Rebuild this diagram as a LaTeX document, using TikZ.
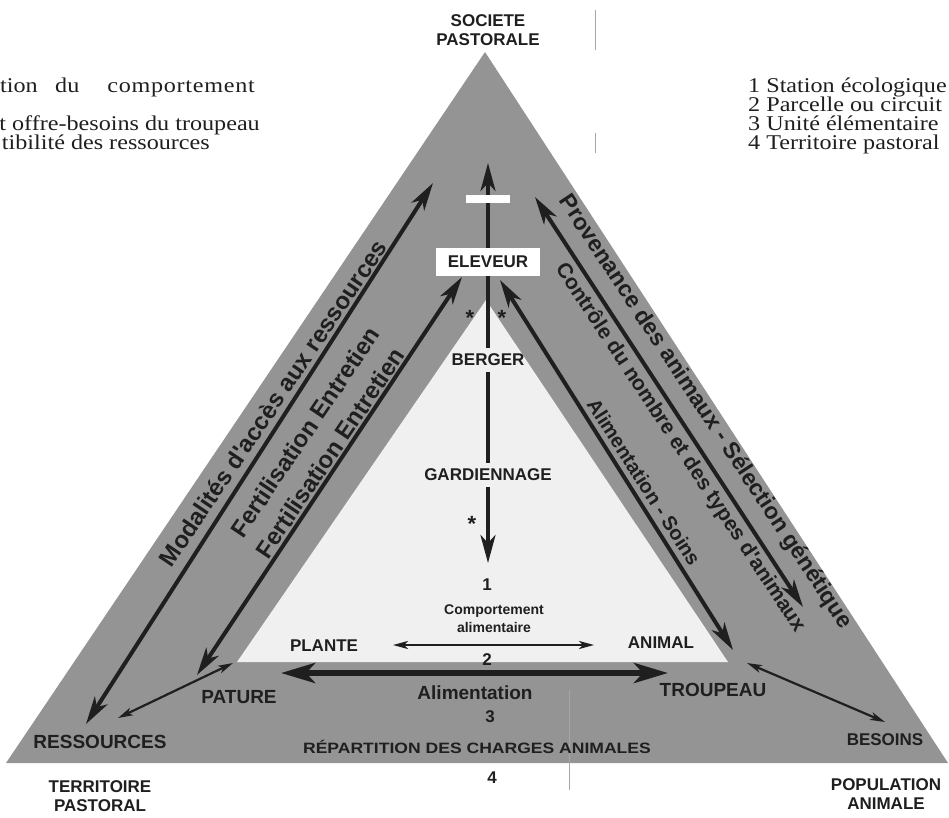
\documentclass[tikz,border=0pt]{standalone}
\usepackage{fontspec}
\setmainfont{Liberation Serif}
\newfontfamily\lsans{Liberation Sans}
\usetikzlibrary{arrows.meta}
\definecolor{gdark}{gray}{0.58}
\definecolor{glight}{gray}{0.94}
\definecolor{ink}{gray}{0.12}
\newcommand{\wide}[1]{\scalebox{1.15}[1]{#1}}
\tikzset{
  lab/.style={font=\lsans\bfseries\fontsize{17}{19}\selectfont, text=ink, inner sep=1pt, align=center},
  biglab/.style={lab, font=\lsans\bfseries\fontsize{19}{22}\selectfont},
  smalllab/.style={lab, font=\lsans\bfseries\fontsize{14}{18}\selectfont},
  rlab/.style={font=\lsans\bfseries\fontsize{#1}{#1}\selectfont, text=ink, inner sep=0pt},
  ser/.style={font=\fontsize{21}{19}\selectfont, text=ink, inner sep=0pt},
  fat/.style={line width=4pt, draw=ink},
  tipA/.tip={Stealth[length=28pt,width=15pt,inset=8pt]},
  tipB/.tip={Stealth[length=34pt,width=20pt,inset=9pt]},
  tipC/.tip={Stealth[length=15pt,width=8pt,inset=4pt]},
  thinarr/.style={line width=2.2pt, draw=ink, tipC-tipC},
  startxt/.style={font=\lsans\bfseries\fontsize{22}{22}\selectfont, text=ink, inner sep=0pt}
}
\begin{document}
\begin{tikzpicture}[x=1pt,y=-1pt]
\useasboundingbox (0,0) rectangle (949,817);
% shaded areas
\fill[gdark] (6,763) -- (485,52) -- (948,763) -- cycle;
\fill[glight] (486,300) -- (237,662) -- (728,662) -- cycle;
% scan marks
\draw[black!35, line width=0.6pt] (595,10) -- (595,50) (595,133) -- (595,153) (569,690) -- (569,790);

% top texts
\node[ser, anchor=base east] (l1a) at (38,92) {\wide{tion}};
\node[ser, anchor=base west] (l1b) at (55,92) {\wide{du}};
\node[ser, anchor=base east] (l1c) at (255,92) {\wide{\addfontfeature{LetterSpace=3}comportement}};
\node[ser, anchor=base east] (l2) at (260,130) {\wide{t offre-besoins du troupeau}};
\node[ser, anchor=base east] (l3) at (210,149) {\wide{tibilité des ressources}};
\node[ser, anchor=base west] (r1) at (748,92) {\wide{1 Station écologique}};
\node[ser, anchor=base west] (r2) at (748,111) {\wide{2 Parcelle ou circuit}};
\node[ser, anchor=base west] (r3) at (748,130) {\wide{3 Unité élémentaire}};
\node[ser, anchor=base west] (r4) at (748,149) {\wide{4 Territoire pastoral}};
\node[lab] (soc) at (488,30) {SOCIETE\\PASTORALE};

% central column
\node[lab, fill=white, minimum width=104pt, minimum height=28pt, inner sep=0pt] (elev) at (488,262) {ELEVEUR};
\node[lab, inner sep=6pt] (berger) at (488,360) {BERGER};
\node[lab, inner sep=6pt] (gard) at (488,475) {GARDIENNAGE};
\node[startxt] (st1) at (470,318) {*};
\node[startxt] (st2) at (502,318) {*};
\node[startxt] (st3) at (472,524) {*};
\node[lab] (n1) at (487,585) {1};
\node[smalllab] (comp) at (494,619) {Comportement\\alimentaire};
\node[lab] (plante) at (324,646) {PLANTE};
\node[lab] (animal) at (661,643) {ANIMAL};
\node[lab] (n2) at (487,660) {2};
\node[biglab] (pature) at (239,697) {PATURE};
\node[biglab] (alimn) at (475,693) {Alimentation};
\node[biglab] (troup) at (713,690) {TROUPEAU};
\node[lab] (n3) at (490,717) {3};
\node[lab, font=\lsans\bfseries\fontsize{15}{18}\selectfont] (rep) at (477,747) {\scalebox{1.17}[1]{RÉPARTITION DES CHARGES ANIMALES}};
\node[lab] (n4) at (492,778) {4};
\node[biglab] (ress) at (100,742) {RESSOURCES};
\node[lab] (terr) at (100,796) {TERRITOIRE\\PASTORAL};
\node[lab] (bes) at (885,740) {BESOINS};
\node[lab] (pop) at (886,794) {POPULATION\\ANIMALE};

% rotated texts
\node[rlab=24, rotate=56] (mod) at (273,403) {Modalités d'accès aux ressources};
\node[rlab=24, rotate=56] (fer1) at (305,432) {Fertilisation Entretien};
\node[rlab=24, rotate=56] (fer2) at (330,453) {Fertilisation Entretien};
\node[rlab=23, rotate=-56.6] (prov) at (705,412) {Provenance des animaux - Sélection génétique};
\node[rlab=21, rotate=-56.6] (ctrl) at (680,448) {Contrôle du nombre et des types d'animaux};
\node[rlab=20, rotate=-57.5] (soins) at (644,482) {Alimentation - Soins};

% arrow end points
\coordinate (olT) at (433,183); \coordinate (olB) at (86,724);
\coordinate (ilT) at (462,277); \coordinate (ilB) at (197,675);
\coordinate (orT) at (535,197); \coordinate (orB) at (803,607);
\coordinate (irT) at (500,280); \coordinate (irB) at (733,650);
\coordinate (vT) at (488,163);  \coordinate (vB) at (488,563);
\coordinate (pa1) at (393,645); \coordinate (pa2) at (594,645);
\coordinate (bg1) at (281,673); \coordinate (bg2) at (668,673);
\coordinate (tp1) at (233,663); \coordinate (tp2) at (118,718);
\coordinate (tb1) at (747,663); \coordinate (tb2) at (885,722);

% arrows
\draw[fat, tipA-tipA] (olB) -- (olT);
\draw[fat, tipA-tipA] (ilB) -- (ilT);
\draw[fat, tipA-tipA] (orB) -- (orT);
\draw[fat, tipA-tipA] (irB) -- (irT);
\draw[fat, -tipA] (elev.north) -- (vT);
\fill[white] (466,195) rectangle (510,203);
\draw[fat] (elev.south) -- (berger.north);
\draw[fat] (berger.south) -- (gard.north);
\draw[fat, -tipA] (gard.south) -- (vB);
\draw[thinarr] (pa1) -- (pa2);
\draw[line width=6pt, draw=ink, tipB-tipB] (bg1) -- (bg2);
\draw[thinarr] (tp1) -- (tp2);
\draw[thinarr] (tb1) -- (tb2);
\end{tikzpicture}
\end{document}
